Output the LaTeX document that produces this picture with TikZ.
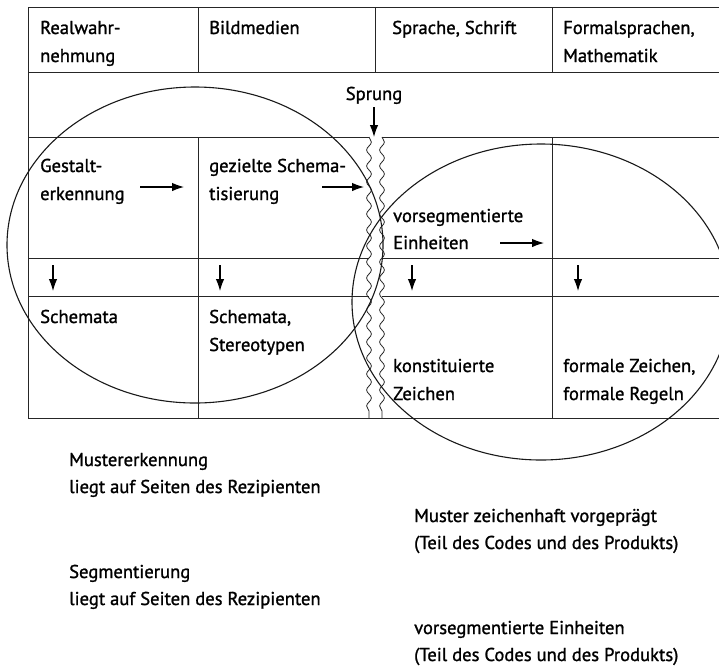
\documentclass[tikz,border=0pt]{standalone}
\usepackage{fontspec}
\setmainfont{PT Sans}[FakeBold=1.2]
\usetikzlibrary{decorations.pathmorphing,arrows.meta}
\newcommand\twolines[2]{\begin{tabular}[t]{@{}l@{}}#1\\#2\end{tabular}}
\begin{document}
\begin{tikzpicture}[x=1pt,y=-1pt,
  font=\fontsize{18.6}{28}\selectfont,
  txt/.style={anchor=base west,inner sep=0pt},
  btxt/.style={anchor=base west,inner sep=0pt,font=\fontsize{18.6}{27}\selectfont},
  grid/.style={line width=0.8pt,black!85},
  oval/.style={line width=1.1pt,black!90},
  arr/.style={-{Latex[length=12pt,width=8.5pt]},line width=1.1pt},
  wave/.style={decorate,decoration={snake,segment length=16pt,amplitude=2.4pt},line width=0.8pt,black!85}]
\useasboundingbox (0,0) rectangle (719,665);
\clip (0,0) rectangle (719,665);
% table frame
\draw[grid] (28,7) -- (725,7);
\draw[grid] (28,72) -- (725,72);
\draw[grid] (28,137) -- (369,137) (382,137) -- (725,137);
\draw[grid] (28,258) -- (369,258) (382,258) -- (725,258);
\draw[grid] (28,296) -- (369,296) (382,296) -- (725,296);
\draw[grid] (28,418) -- (725,418);
\draw[grid] (28,7) -- (28,418);
\draw[grid] (198,7) -- (198,72) (375,7) -- (375,72) (552,7) -- (552,72);
\draw[grid] (198,137) -- (198,418) (552,137) -- (552,418);
% wavy split
\draw[wave] (369,137) -- (369,418);
\draw[wave] (382,137) -- (382,418);
% ellipses
\draw[oval] (195,245) ellipse [x radius=188,y radius=158];
\draw[oval] (541,302) ellipse [x radius=189,y radius=158];
% header
\node[txt] (h1) at (40,34) {\twolines{Realwahr-}{nehmung}};
\node[txt] (h2) at (209,34) {Bildmedien};
\node[txt] (h3) at (392,34) {Sprache, Schrift};
\node[txt] (h4) at (563,34) {\twolines{Formalsprachen,}{Mathematik}};
% Sprung
\node[anchor=base,inner sep=0pt] (sprung) at (374,100) {Sprung};
\coordinate (sp1) at (374,107);
\coordinate (sp2) at (374,137);
\draw[arr] (sp1) -- (sp2);
% row 3
\node[txt] (g1) at (40,172) {\twolines{Gestalt-}{erkennung}};
\node[txt] (g2) at (209,172) {\twolines{gezielte Schema-}{tisierung}};
\node[txt,font=\fontsize{18.6}{27}\selectfont] (g3) at (393,222) {\twolines{vorsegmentierte}{Einheiten}};
\coordinate (r1a) at (140,187); \coordinate (r1b) at (184,187);
\coordinate (r2a) at (322,187); \coordinate (r2b) at (364,187);
\coordinate (r3a) at (500,243); \coordinate (r3b) at (544,243);
\draw[arr] (r1a) -- (r1b);
\draw[arr] (r2a) -- (r2b);
\draw[arr] (r3a) -- (r3b);
% row 4 down arrows
\foreach \i/\x in {1/53,2/220,3/412,4/578}{
  \coordinate (d\i a) at (\x,265);
  \coordinate (d\i b) at (\x,291);
  \draw[arr] (d\i a) -- (d\i b);
}
% row 5
\node[txt] (s1) at (40,323) {Schemata};
\node[txt] (s2) at (209,323) {\twolines{Schemata,}{Stereotypen}};
\node[txt] (s3) at (393,372) {\twolines{konstituierte}{Zeichen}};
\node[txt] (s4) at (563,372) {\twolines{formale Zeichen,}{formale Regeln}};
% bottom notes
\node[btxt] (b1) at (69,466) {\twolines{Mustererkennung}{liegt auf Seiten des Rezipienten}};
\node[btxt] (b2) at (414,522) {\twolines{Muster zeichenhaft vorgeprägt}{(Teil des Codes und des Produkts)}};
\node[btxt] (b3) at (69,578) {\twolines{Segmentierung}{liegt auf Seiten des Rezipienten}};
\node[btxt] (b4) at (414,634) {\twolines{vorsegmentierte Einheiten}{(Teil des Codes und des Produkts)}};
\end{tikzpicture}
\end{document}
